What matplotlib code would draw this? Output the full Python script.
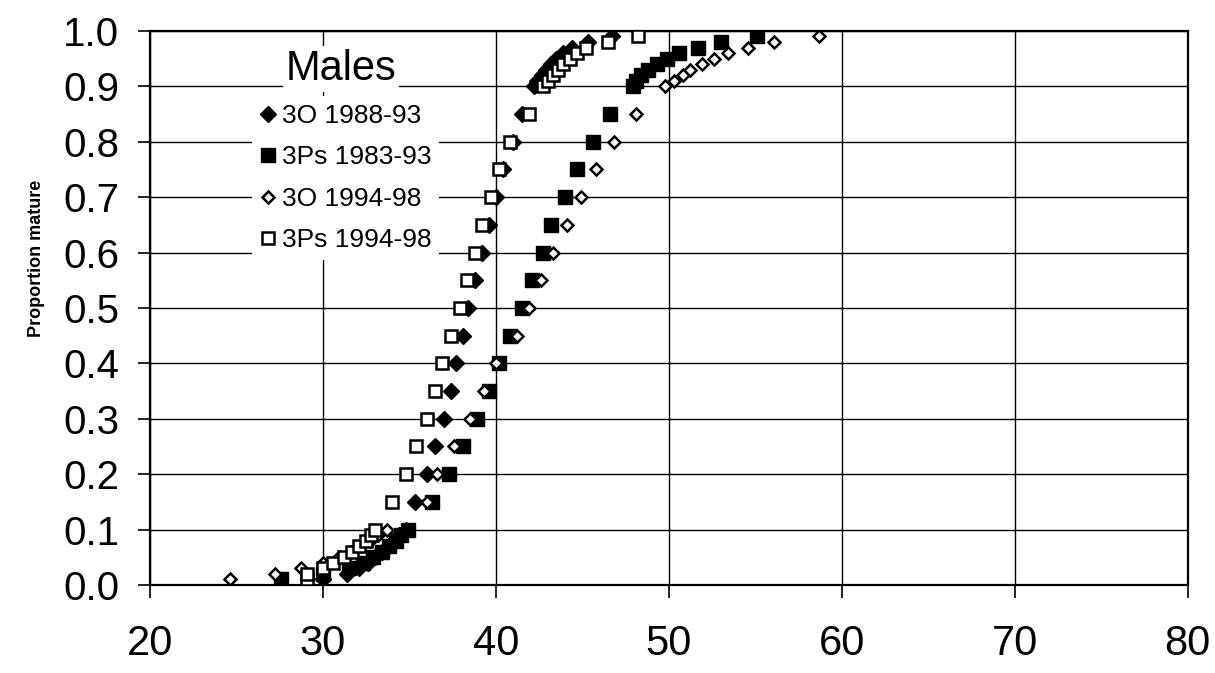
import matplotlib
matplotlib.use("Agg")
import matplotlib.pyplot as plt

plt.rcParams['font.family'] = ['Liberation Sans', 'DejaVu Sans']

# proportion-mature levels shared by every series
levels = [0.01, 0.02, 0.03, 0.04, 0.05, 0.06, 0.07, 0.08, 0.09, 0.10,
          0.15, 0.20, 0.25, 0.30, 0.35, 0.40, 0.45, 0.50, 0.55, 0.60,
          0.65, 0.70, 0.75, 0.80, 0.85,
          0.90, 0.91, 0.92, 0.93, 0.94, 0.95, 0.96, 0.97, 0.98, 0.99]

# length (cm) at which each level is reached
len_3o_8893 = [30.0, 31.4, 32.1, 32.6, 33.0, 33.4, 33.8, 34.1, 34.4, 34.8,
               35.3, 36.0, 36.5, 37.0, 37.4, 37.7, 38.1, 38.4, 38.8, 39.2,
               39.6, 40.0, 40.4, 41.0, 41.5,
               42.2, 42.4, 42.65, 42.9, 43.2, 43.5, 43.9, 44.4, 45.3, 46.7]
len_3ps_8393 = [27.6, 30.0, 31.5, 32.3, 32.9, 33.4, 33.8, 34.2, 34.5, 34.9,
                36.3, 37.3, 38.1, 38.9, 39.6, 40.2, 40.8, 41.5, 42.1, 42.7,
                43.2, 44.0, 44.7, 45.6, 46.6,
                47.9, 48.1, 48.4, 48.8, 49.3, 49.9, 50.6, 51.7, 53.0, 55.1]
len_3o_9498 = [24.6, 27.2, 28.7, 30.0, 30.9, 31.6, 32.2, 32.7, 33.2, 33.7,
               36.0, 36.6, 37.6, 38.5, 39.3, 40.0, 41.2, 41.9, 42.6, 43.3,
               44.1, 44.9, 45.8, 46.8, 48.1,
               49.8, 50.3, 50.8, 51.2, 51.9, 52.6, 53.4, 54.6, 56.1, 58.7]
len_3ps_9498 = [29.1, 29.1, 30.0, 30.6, 31.2, 31.7, 32.1, 32.5, 32.8, 33.0,
                34.0, 34.8, 35.4, 36.0, 36.5, 36.9, 37.4, 37.9, 38.3, 38.8,
                39.2, 39.7, 40.2, 40.8, 41.9,
                42.7, 43.0, 43.3, 43.6, 43.9, 44.3, 44.7, 45.2, 46.5, 48.2]

labels = ['3O 1988-93', '3Ps 1983-93', '3O 1994-98', '3Ps 1994-98']

fig = plt.figure(figsize=(12.15, 6.73), dpi=100)
ax = fig.add_axes([0.1235, 0.1308, 0.854, 0.8232])

ax.plot(len_3o_8893, levels, 'D', ms=7.8, mfc='black', mec='black', mew=1,
        label=labels[0], zorder=3)
ax.plot(len_3ps_8393, levels, 's', ms=10.3, mfc='black', mec='black', mew=1,
        label=labels[1], zorder=3)
ax.plot(len_3o_9498, levels, 'D', ms=6.6, mfc='white', mec='black', mew=1.8,
        label=labels[2], zorder=3)
ax.plot(len_3ps_9498, levels, 's', ms=8.8, mfc='white', mec='black', mew=1.8,
        label=labels[3], zorder=3)

ax.set_xlim(20, 80)
ax.set_ylim(0, 1.0)
ax.set_xticks(range(20, 81, 10))
ax.set_yticks([i / 10 for i in range(11)])
ax.set_yticklabels([f'{i / 10:.1f}' for i in range(11)])
ax.grid(True, color='black', linewidth=1.0)
ax.set_axisbelow(True)

for s in ax.spines.values():
    s.set_linewidth(1.6)
    s.set_color('black')

ax.tick_params(axis='x', direction='out', length=9, width=1.2,
               labelsize=30, pad=19)
ax.tick_params(axis='y', direction='out', length=9, width=1.2,
               labelsize=29, pad=13)

ax.set_ylabel('Proportion mature', fontsize=13, fontweight='bold')
ax.yaxis.set_label_coords(-0.101, 0.59)

leg = ax.legend(loc='upper left', bbox_to_anchor=(0.098, 0.8826),
                fontsize=19, frameon=True, facecolor='white',
                edgecolor='none', framealpha=1, fancybox=False,
                handlelength=0.6, handletextpad=0.23, labelspacing=0.66,
                borderpad=0.3, borderaxespad=0)
leg.set_zorder(4)

ax.text(0.184, 0.931, 'Males', transform=ax.transAxes, fontsize=30,
        ha='center', va='center', zorder=4,
        bbox=dict(facecolor='white', edgecolor='none', pad=2))

fig.savefig('out.png', dpi=100)
